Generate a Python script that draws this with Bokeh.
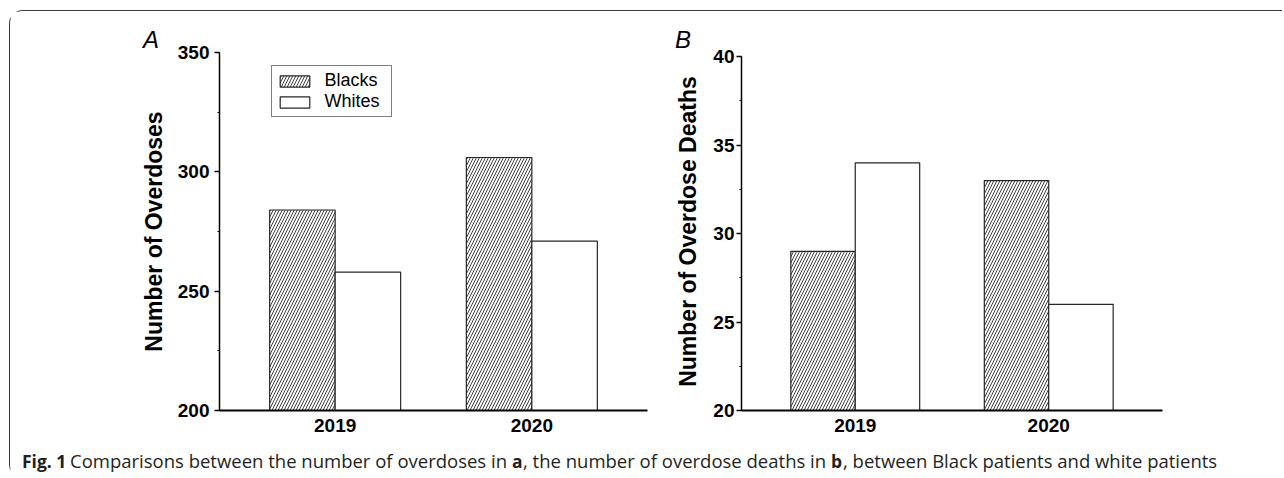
from bokeh.plotting import figure
from bokeh.models import (ColumnDataSource, FactorRange, Range1d, SingleIntervalTicker,
                          Legend, LegendItem, Title)
from bokeh.layouts import row, column
from bokeh.transform import dodge
from bokeh.embed import file_html
from bokeh.resources import INLINE
from bokeh.core.properties import value

# ---------------- data ----------------
years = ["2019", "2020"]
series = ["Blacks", "Whites"]
overdoses_blacks = [284, 306]
overdoses_whites = [258, 271]
deaths_blacks = [29, 33]
deaths_whites = [34, 26]
range_A = (200, 350)
range_B = (20, 40)
step_A = 50
step_B = 5
ylabel_A = "Number of Overdoses"
ylabel_B = "Number of Overdose Deaths"
caption_parts = ["Fig. 1", "Comparisons between the number of overdoses in ", "a",
                 ", the number of overdose deaths in ", "b",
                 ", between Black patients and white patients"]
caption_bold = [True, False, True, False, True, False]

# ---------------- layout constants ----------------
OX, OY = 10.5, 11.5        # page offset of the first figure (margin + border)
MBT, FRAME_H, MBB = 41, 358, 30
FIG_H = MBT + FRAME_H + MBB
TICK_FONT = "Liberation Sans"


def panel(blacks, whites, yr, headroom, step, ylabel, width, mbl, mbr,
          label_standoff, title_standoff, letter, letter_offset, legend=False):
    src = ColumnDataSource(dict(year=years, blacks=blacks, whites=whites))
    p = figure(x_range=FactorRange(factors=years, range_padding=0.088,
                                   range_padding_units="absolute"),
               y_range=Range1d(yr[0], yr[1] + headroom), width=width, height=FIG_H,
               output_backend="svg", toolbar_location=None,
               min_border_left=mbl, min_border_right=mbr, min_border_top=MBT,
               min_border_bottom=MBB)
    p.xgrid.visible = False
    p.ygrid.visible = False
    p.outline_line_color = None
    p.background_fill_color = "white"
    p.border_fill_color = "white"

    common = dict(source=src, bottom=yr[0], width=0.333, line_color="#262626",
                  line_width=1.2)
    rb = p.vbar(x=dodge("year", -0.1665, range=p.x_range), top="blacks",
                fill_color="white", hatch_pattern="/", hatch_color="black",
                hatch_scale=6, hatch_weight=0.75, **common)
    rw = p.vbar(x=dodge("year", 0.1665, range=p.x_range), top="whites",
                fill_color="white", **common)

    ya = p.yaxis[0]
    ya.ticker = SingleIntervalTicker(interval=step, num_minor_ticks=2)
    ya.bounds = yr
    ya.axis_line_width = 1.5
    ya.axis_line_color = "black"
    ya.major_tick_line_width = 1.5
    ya.major_tick_out = 5
    ya.major_tick_in = 0
    ya.minor_tick_out = 2
    ya.minor_tick_in = 0
    ya.major_label_text_font = TICK_FONT
    ya.major_label_text_font_style = "bold"
    ya.major_label_text_font_size = "19px"
    ya.major_label_text_color = "black"
    ya.major_label_standoff = label_standoff
    ya.axis_label = ylabel
    ya.axis_label_text_font = TICK_FONT
    ya.axis_label_text_font_style = "bold"
    ya.axis_label_text_font_size = "23px"
    ya.axis_label_text_color = "black"
    ya.axis_label_standoff = title_standoff

    xa = p.xaxis[0]
    xa.axis_line_width = 2
    xa.axis_line_color = "black"
    xa.major_tick_out = 0
    xa.major_tick_in = 0
    xa.minor_tick_out = 0
    xa.major_label_text_font = TICK_FONT
    xa.major_label_text_font_style = "bold"
    xa.major_label_text_font_size = "19px"
    xa.major_label_text_color = "black"
    xa.major_label_standoff = 8

    # panel letter
    p.add_layout(Title(text=letter, align="left", offset=letter_offset, standoff=0,
                       text_font=TICK_FONT, text_font_style="italic",
                       text_font_size="24px", text_color="black"), "above")

    if legend:
        lg = Legend(items=[LegendItem(label=series[0], renderers=[rb]),
                           LegendItem(label=series[1], renderers=[rw])],
                    location=(51.5, 293), orientation="vertical",
                    glyph_width=37, glyph_height=14, label_height=20, label_width=62,
                    label_standoff=12, spacing=0, padding=4, margin=0,
                    label_text_font=TICK_FONT, label_text_font_size="18px",
                    label_text_color="black",
                    border_line_color="black", border_line_width=1,
                    background_fill_color="white", background_fill_alpha=1)
        p.add_layout(lg)
    return p


WA = 658
pA = panel(overdoses_blacks, overdoses_whites, range_A, 0.0, step_A, ylabel_A,
           width=WA, mbl=209, mbr=21,
           label_standoff=5, title_standoff=8, letter="A",
           letter_offset=143 - (OX + 209), legend=True)
pB = panel(deaths_blacks, deaths_whites, range_B, 0.24, step_B, ylabel_B,
           width=614, mbl=73, mbr=614 - 73 - 421,
           label_standoff=2, title_standoff=9, letter="B",
           letter_offset=675 - (OX + WA + 73))

# ---------------- caption ----------------
CAP_W, CAP_H = 1272, 35
cap = figure(width=CAP_W, height=CAP_H, x_range=Range1d(0, CAP_W), y_range=Range1d(0, CAP_H),
             output_backend="svg", toolbar_location=None, min_border=0,
             x_axis_type=None, y_axis_type=None)
cap.outline_line_color = None
cap.border_fill_color = "white"
cap_top = OY + FIG_H
cap_page_x = [22, 70, 512, 523, 831, 843]
cap_base = CAP_H - (460.5 - cap_top)
for bold in (True, False):
    idx = [i for i, b in enumerate(caption_bold) if b == bold]
    s = ColumnDataSource(dict(x=[cap_page_x[i] - OX for i in idx],
                              y=[cap_base] * len(idx),
                              text=[caption_parts[i] for i in idx]))
    cap.text(x="x", y="y", text="text", source=s, text_font=value("Open Sans"),
             text_font_style="bold" if bold else "normal",
             text_font_size="17.5px" if bold else "18.5px",
             text_color="#231f20", text_baseline="alphabetic", text_align="left")

layout = column(row(pA, pB), cap, margin=(10, 0, 0, 9),
                styles={"border-top": "1.5px solid #3c3c3c",
                        "border-left": "1.5px solid #3c3c3c",
                        "border-top-left-radius": "14px",
                        "border-bottom-left-radius": "10px",
                        "box-sizing": "content-box"})

open("out.html", "w").write(file_html(layout, INLINE))
